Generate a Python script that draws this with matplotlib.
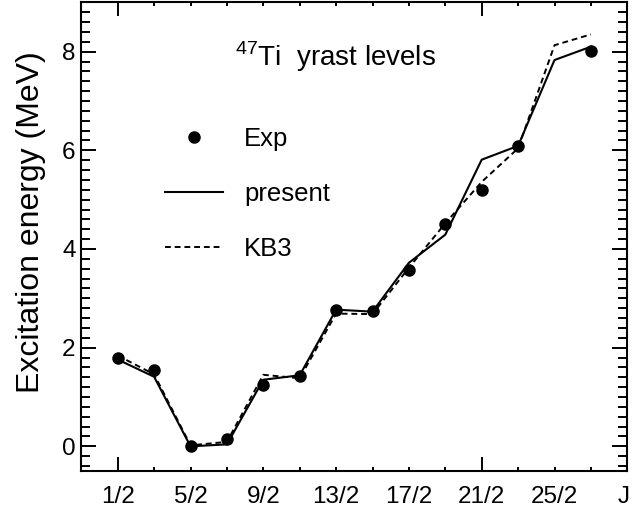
import matplotlib
matplotlib.use("Agg")
import matplotlib.pyplot as plt
import numpy as np

plt.rcParams['font.family'] = ['Liberation Sans', 'DejaVu Sans']
plt.rcParams['mathtext.fontset'] = 'custom'
plt.rcParams['mathtext.rm'] = 'Liberation Sans'

# J values (spin), tick labels
spins = [0.5, 1.5, 2.5, 3.5, 4.5, 5.5, 6.5, 7.5, 8.5, 9.5, 10.5, 11.5, 12.5, 13.5]
spin_labels = ['1/2', '3/2', '5/2', '7/2', '9/2', '11/2', '13/2', '15/2',
               '17/2', '19/2', '21/2', '23/2', '25/2', '27/2']

# experimental levels (no 25/2 point)
exp_j = [0.5, 1.5, 2.5, 3.5, 4.5, 5.5, 6.5, 7.5, 8.5, 9.5, 10.5, 11.5, 13.5]
exp_e = [1.79, 1.54, 0.00, 0.14, 1.24, 1.43, 2.76, 2.74, 3.57, 4.50, 5.20, 6.09, 8.02]

# present calculation
present_e = [1.76, 1.41, 0.00, 0.04, 1.35, 1.44, 2.77, 2.73, 3.72, 4.29, 5.81, 6.09, 7.83, 8.10]
# KB3 interaction
kb3_e = [1.84, 1.46, 0.02, 0.09, 1.45, 1.38, 2.69, 2.68, 3.62, 4.52, 5.36, 6.04, 8.13, 8.35]

W, H = 633, 516
fig = plt.figure(figsize=(W / 100, H / 100), dpi=100)
ax = fig.add_axes([81.3 / W, (H - 471) / H, (627.3 - 81.3) / W, (471 - 2.3) / H])

ax.plot(exp_j, exp_e, 'o', color='black', markersize=8, label='Exp', zorder=4)
ax.plot(spins, present_e, '-', color='black', lw=1.5, label='present')
ax.plot(spins, kb3_e, color='black', lw=1.4, linestyle=(0, (3, 2)), label='KB3')

ax.set_xlim(-0.5, 14.5)
ax.set_ylim(-0.5, 9.0)

# x ticks: tall ones at 1/2 and 21/2, short ones at every J
ax.set_xticks([0.5, 10.5], labels=[spin_labels[0], spin_labels[10]])
show = [2, 4, 6, 8, 12]
ax.set_xticks(spins, minor=True,
              labels=[lab if i in show else '' for i, lab in enumerate(spin_labels)])
ax.tick_params(axis='x', which='both', direction='in', top=True, bottom=True,
               labelsize=17.5, pad=11, width=1.4)
ax.tick_params(axis='x', which='major', length=10.3)
ax.tick_params(axis='x', which='minor', length=3.1)

ax.set_yticks([0, 2, 4, 6, 8])
ax.set_yticks(np.arange(-0.4, 9.0, 0.2), minor=True)
ax.tick_params(axis='y', which='both', direction='in', left=True, right=True,
               labelsize=17.5, pad=4, width=1.4)
ax.tick_params(axis='y', which='major', length=10.6)
ax.tick_params(axis='y', which='minor', length=6.7)

for s in ax.spines.values():
    s.set_linewidth(1.5)

ax.set_ylabel('Excitation energy (MeV)', fontsize=23)
ax.yaxis.set_label_coords(-0.064, 0.53)

ax.text(14.4, -0.0315, 'J', transform=ax.get_xaxis_transform(),
        ha='center', va='top', fontsize=17.5)

ax.text(0.2815, 0.864, r'$^{47}$Ti  yrast levels', transform=ax.transAxes,
        ha='left', va='baseline', fontsize=20)

ax.legend(loc='upper left', bbox_to_anchor=(0.153, 0.733), frameon=False,
          fontsize=18.5, numpoints=1, handlelength=2.26, handletextpad=0.82,
          labelspacing=1.2, borderpad=0, borderaxespad=0)

fig.savefig('out.png', dpi=100)
